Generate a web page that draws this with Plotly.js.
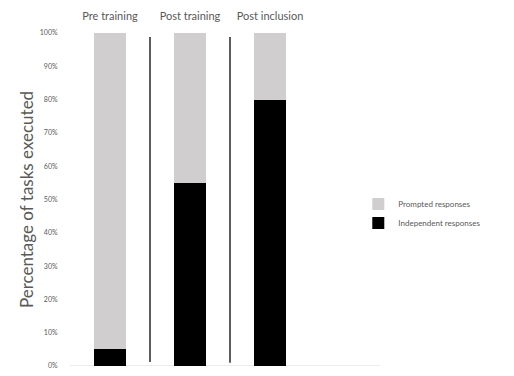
<!DOCTYPE html>
<html><head><meta charset="utf-8">
<script src="https://cdn.plot.ly/plotly-3.0.1.min.js"></script>
<style>html,body{margin:0;padding:0;background:#fff}#c{width:514px;height:376px}</style>
</head><body><div id="c"></div>
<script>
var categories = ["Pre training", "Post training", "Post inclusion"];
var independent = [5, 55, 80];
var prompted = [95, 45, 20];
var yTicks = [0,10,20,30,40,50,60,70,80,90,100];
var yTickLabels = yTicks.map(function(v){return v + "%";});

var traces = [
  {type:'bar', name:'Independent responses', x:[0,1,2], y:independent,
   marker:{color:'#000000'}, width:0.4, hoverinfo:'none'},
  {type:'bar', name:'Prompted responses', x:[0,1,2], y:prompted,
   marker:{color:'#d0cece'}, width:0.4, hoverinfo:'none'}
];

var shapes = [
  {type:'line', xref:'paper', yref:'y', x0:0, x1:1, y0:0, y1:0, line:{color:'#d9d9d9', width:1.2}, layer:'below'},
  {type:'line', xref:'x', yref:'y', x0:0.5, x1:0.5, y0:1.2, y1:98.8, line:{color:'#262626', width:1.5}},
  {type:'line', xref:'x', yref:'y', x0:1.5, x1:1.5, y0:1.0, y1:98.8, line:{color:'#262626', width:1.5}}
];

var layout = {
  width:514, height:376,
  margin:{l:70, r:134, t:33, b:10, pad:0},
  paper_bgcolor:'#fff', plot_bgcolor:'#fff',
  barmode:'stack',
  font:{family:'Lato, "Open Sans", sans-serif', color:'#595959'},
  showlegend:true,
  legend:{x:0.93, xanchor:'left', y:0.458, yanchor:'middle', traceorder:'reversed',
          font:{size:8, color:'#595959'}, tracegroupgap:0, itemwidth:30, bgcolor:'rgba(0,0,0,0)'},
  xaxis:{side:'top', range:[-0.5, 3.375], tickmode:'array', tickvals:[0,1,2], ticktext:categories,
         showgrid:false, zeroline:false, showline:false, ticks:'outside', ticklen:8,
         tickcolor:'rgba(0,0,0,0)', tickfont:{size:11, color:'#595959'}, fixedrange:true},
  yaxis:{range:[0,100], tickmode:'array', tickvals:yTicks, ticktext:yTickLabels,
         showgrid:false, zeroline:false, showline:false, ticks:'outside', ticklen:10,
         tickcolor:'rgba(0,0,0,0)', tickfont:{size:7, color:'#595959'},
         title:{text:'Percentage of tasks executed', font:{size:17, color:'#595959'}, standoff:1},
         automargin:false, fixedrange:true},
  shapes:shapes
};
Plotly.newPlot('c', traces, layout, {displayModeBar:false, staticPlot:true});
</script></body></html>
